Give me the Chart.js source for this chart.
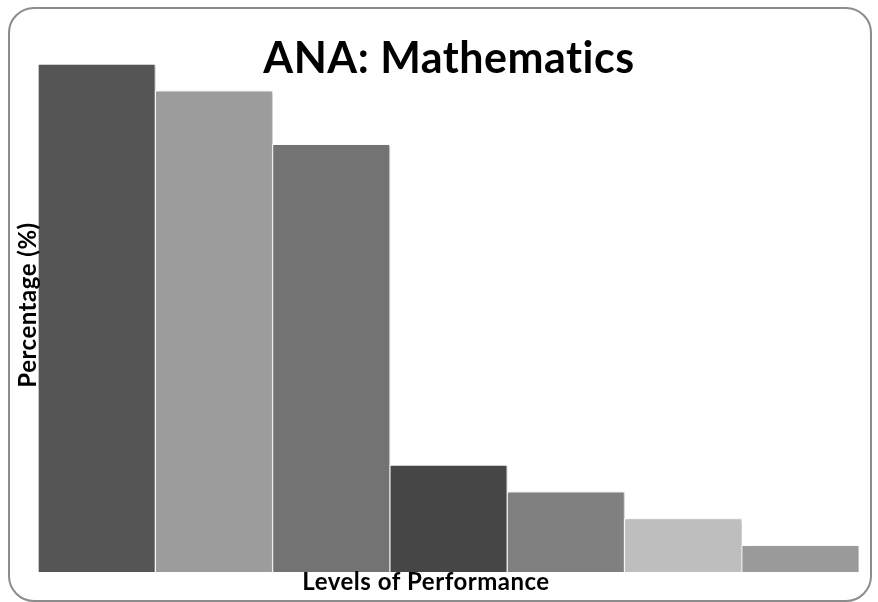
<!DOCTYPE html>
<html>
<head>
<meta charset="utf-8">
<script src="https://cdn.jsdelivr.net/npm/chart.js@4.4.1/dist/chart.umd.min.js"></script>
<style>
  html, body { margin: 0; padding: 0; background: #fff; }
  #wrap { position: relative; width: 878px; height: 602px; }
  #frame {
    position: absolute; left: 8px; top: 7px; width: 860px; height: 591px;
    border: 2px solid #8c8c8c; border-radius: 26px;
  }
  #chart { position: absolute; left: 0; top: 0; }
</style>
</head>
<body>
<div id="wrap">
  <div id="frame"></div>
  <canvas id="chart" width="878" height="602"></canvas>
</div>
<script>
// chart data
const levels = ['Level 1', 'Level 2', 'Level 3', 'Level 4', 'Level 5', 'Level 6', 'Level 7'];
const percentages = [19, 18, 16, 4, 3, 2, 1];
const barColors = ['#555555', '#9c9c9c', '#737373', '#464646', '#808080', '#bebebe', '#9a9a9a'];
const chartTitle = 'ANA: Mathematics';
const xTitle = 'Levels of Performance';
const yTitle = 'Percentage (%)';

// soft drop shadow behind bars
const barShadow = {
  id: 'barShadow',
  beforeDatasetsDraw(chart) {
    const ctx = chart.ctx;
    ctx.save();
    ctx.shadowColor = 'rgba(0,0,0,0.25)';
    ctx.shadowBlur = 3;
    ctx.shadowOffsetX = 2;
    ctx.shadowOffsetY = 1;
  },
  afterDatasetsDraw(chart) {
    chart.ctx.restore();
  }
};

// titles drawn over the plot, like the original
const titles = {
  id: 'titles',
  afterDraw(chart) {
    const ctx = chart.ctx;
    ctx.save();
    ctx.fillStyle = '#000';
    ctx.textAlign = 'center';
    ctx.textBaseline = 'alphabetic';
    ctx.letterSpacing = '0.5px'; // avoids the "ti" ligature
    ctx.font = 'bold 43px Lato';
    ctx.fillText(chartTitle, 449, 73);
    ctx.font = 'bold 24px Lato';
    ctx.fillText(xTitle, 426, 590);
    ctx.translate(36, 305);
    ctx.rotate(-Math.PI / 2);
    ctx.font = 'bold 24px Lato';
    ctx.fillText(yTitle, 0, 0);
    ctx.restore();
  }
};

new Chart(document.getElementById('chart').getContext('2d'), {
  type: 'bar',
  data: {
    labels: levels,
    datasets: [{
      label: yTitle,
      data: percentages,
      backgroundColor: barColors,
      borderColor: '#ffffff',
      borderWidth: 1,
      categoryPercentage: 1.0,
      barPercentage: 1.0
    }]
  },
  options: {
    responsive: false,
    animation: false,
    layout: {
      padding: { left: 38, right: 19, top: 64, bottom: 30 }
    },
    plugins: {
      legend: { display: false },
      title: { display: false },
      tooltip: { enabled: false }
    },
    scales: {
      x: { display: false },
      y: { display: false, min: 0, max: 19 }
    }
  },
  plugins: [barShadow, titles]
});
</script>
</body>
</html>
